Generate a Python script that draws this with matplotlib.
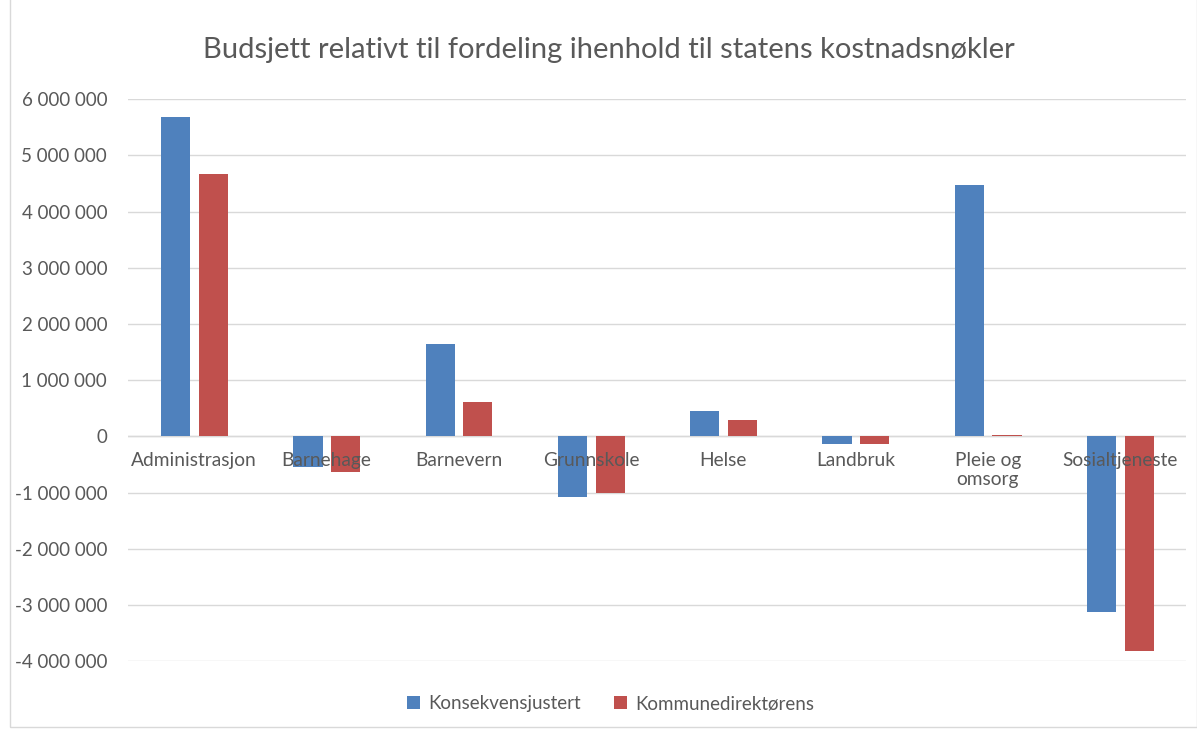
import numpy as np
import matplotlib.pyplot as plt
from matplotlib.patches import Rectangle

plt.rcParams['font.family'] = ['Lato', 'DejaVu Sans']

categories = ['Administrasjon', 'Barnehage', 'Barnevern', 'Grunnskole', 'Helse',
              'Landbruk', 'Pleie og\nomsorg', 'Sosialtjeneste']
konsekvens = [5680000, -550000, 1640000, -1070000, 460000, -140000, 4480000, -3130000]
kommunedir = [4660000, -640000, 620000, -1010000, 300000, -140000, 20000, -3810000]
yticks = np.arange(-4000000, 6000001, 1000000)

fig = plt.figure(figsize=(11.97, 7.29), dpi=100)
ax = fig.add_axes([0.107, 0.093, 0.884, 0.771])

x = np.arange(len(categories))
w = 0.22
ax.bar(x - 0.14, konsekvens, w, color='#4F81BD', label='Konsekvensjustert', zorder=3)
ax.bar(x + 0.145, kommunedir, w, color='#C0504D', label='Kommunedirektørens', zorder=3)

ax.set_xlim(-0.5, len(categories) - 0.5)
ax.set_ylim(-4000000, 6000000)
ax.set_yticks(yticks)
ax.set_yticklabels([f'{v:,}'.replace(',', ' ') for v in yticks])
ax.tick_params(axis='y', length=0, pad=15, labelsize=13.5, labelcolor='#595959')
ax.set_xticks([])
ax.grid(axis='y', color='#D9D9D9', linewidth=1, zorder=0)
ax.axhline(0, color='#D9D9D9', linewidth=1, zorder=1)
for s in ax.spines.values():
    s.set_visible(False)

# category labels sit just under the zero line
for i, c in enumerate(categories):
    ax.annotate(c, (i, 0), xytext=(0, -11), textcoords='offset points',
                ha='center', va='top', fontsize=13.8, color='#595959',
                linespacing=1.2, zorder=4)

fig.text(609 / 1197, 1 - 50 / 729,
         'Budsjett relativt til fordeling ihenhold til statens kostnadsnøkler',
         fontsize=21, color='#595959', ha='center', va='center')

fig.legend(loc='lower center', bbox_to_anchor=(0.51, 0.0), ncol=2, frameon=False,
           fontsize=13.5, labelcolor='#595959', handlelength=0.7, handleheight=0.7,
           columnspacing=1.8, handletextpad=0.4)

fig.patches.append(Rectangle((10 / 1197, 2 / 729), 1 - 10 / 1197, 1, transform=fig.transFigure,
                             fill=False, edgecolor='#D9D9D9', linewidth=1))

fig.savefig('out.png', dpi=100)
